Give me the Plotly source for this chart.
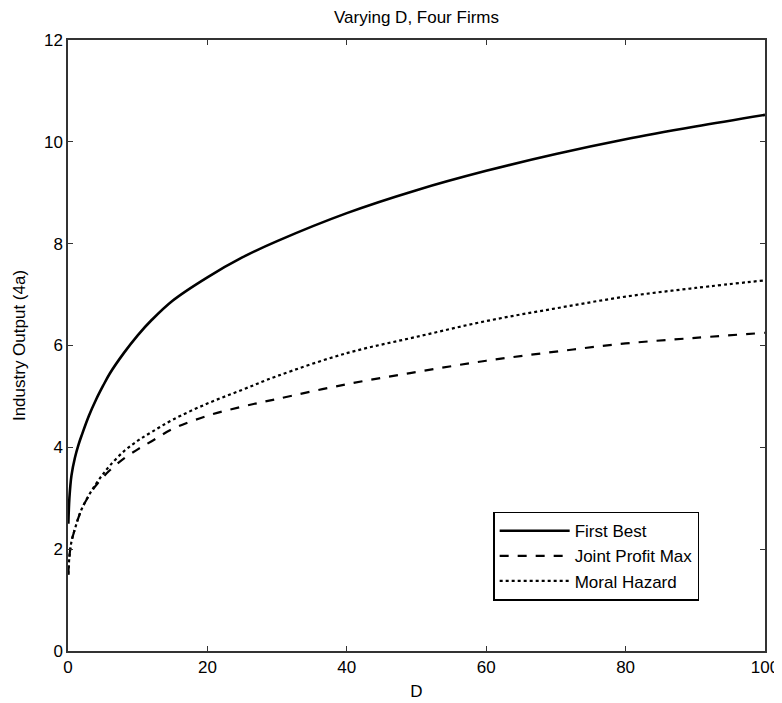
import plotly.graph_objects as go

D = [0.05, 0.2, 0.5, 1, 1.5, 2, 3, 4, 5, 6, 8, 10, 12, 15, 20, 25, 30, 40, 50, 60, 70, 80, 90, 100]
first_best = [2.5, 3.0, 3.45, 3.8, 4.05, 4.25, 4.62, 4.93, 5.2, 5.45, 5.85, 6.2, 6.5, 6.88, 7.34, 7.73, 8.05, 8.6, 9.05, 9.43, 9.76, 10.05, 10.3, 10.53]
joint_profit_max = [1.5, 1.85, 2.15, 2.4, 2.62, 2.8, 3.05, 3.25, 3.41, 3.55, 3.78, 3.96, 4.12, 4.36, 4.62, 4.8, 4.95, 5.24, 5.48, 5.7, 5.88, 6.04, 6.15, 6.25]
moral_hazard = [1.5, 1.85, 2.15, 2.4, 2.62, 2.8, 3.06, 3.28, 3.47, 3.64, 3.92, 4.13, 4.3, 4.54, 4.86, 5.13, 5.4, 5.85, 6.17, 6.48, 6.73, 6.96, 7.13, 7.28]

x_ticks = [0, 20, 40, 60, 80, 100]
y_ticks = [0, 2, 4, 6, 8, 10, 12]

FONT = "Liberation Sans, Arial, sans-serif"

fig = go.Figure()
fig.add_trace(go.Scatter(x=D, y=first_best, mode="lines", name="First Best",
                         line=dict(color="black", width=2.6, dash="solid", shape="spline")))
fig.add_trace(go.Scatter(x=D, y=joint_profit_max, mode="lines", name="Joint Profit Max",
                         line=dict(color="black", width=2.2, dash="dash", shape="spline")))
fig.add_trace(go.Scatter(x=D, y=moral_hazard, mode="lines", name="Moral Hazard",
                         line=dict(color="black", width=2.2, dash="dot", shape="spline")))

axis_common = dict(
    showline=True, linecolor="#333333", linewidth=1.5, mirror="ticks",
    ticks="inside", ticklen=5, tickwidth=1.2, tickcolor="#333333",
    showgrid=False, zeroline=False, automargin=False,
    tickfont=dict(family=FONT, size=17, color="black"),
)

fig.update_layout(
    width=782, height=703,
    paper_bgcolor="white", plot_bgcolor="white",
    margin=dict(l=60, r=25, t=32, b=60),
    title=dict(text="Varying D, Four Firms", xref="paper", x=0.5, xanchor="center",
               y=0.987, yanchor="middle",
               font=dict(family=FONT, size=17, color="black")),
    xaxis=dict(range=[0, 100], tickvals=x_ticks, ticktext=[str(v) for v in x_ticks],
               title=dict(text="D", font=dict(family=FONT, size=17, color="black"), standoff=9),
               **axis_common),
    yaxis=dict(range=[0, 12], tickvals=y_ticks, ticktext=[str(v) for v in y_ticks],
               title=dict(text="Industry Output (4a)", font=dict(family=FONT, size=17, color="black"), standoff=14),
               **axis_common),
    legend=dict(x=0.61, y=0.228, xanchor="left", yanchor="top",
                bgcolor="white", bordercolor="black", borderwidth=1.5,
                font=dict(family=FONT, size=17, color="black"),
                itemwidth=70, tracegroupgap=0),
    showlegend=True,
)

fig.write_html("out.html")
